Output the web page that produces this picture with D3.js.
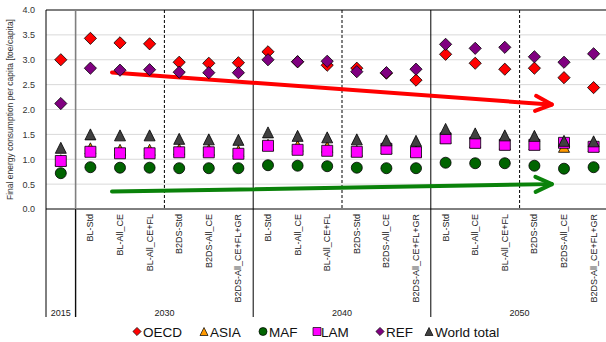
<!DOCTYPE html>
<html><head><meta charset="utf-8">
<script src="https://cdn.jsdelivr.net/npm/d3@7"></script>
<style>body{margin:0;background:#fff}svg{display:block;font-family:"Liberation Sans",Arial,sans-serif}</style>
</head><body><svg id="c" width="606" height="342"></svg>
<script>
const years = ["2015","2030","2040","2050"];
const scenarios = ["BL-Std","BL-All_CE","BL-All_CE+FL","B2DS-Std","B2DS-All_CE","B2DS-All_CE+FL+GR"];
const yTicks = [0,0.5,1,1.5,2,2.5,3,3.5,4];
const seriesNames = ["OECD","ASIA","MAF","LAM","REF","World total"];
const OECD  = [3.00,3.43,3.34,3.32,2.95,2.93,2.94,3.16,2.96,2.89,2.83,2.73,2.59,3.11,2.93,2.81,2.83,2.64,2.44];
const ASIA  = [0.98,1.22,1.19,1.19,1.20,1.19,1.17,1.29,1.27,1.25,1.17,1.22,1.16,1.43,1.34,1.30,1.30,1.25,1.26];
const MAF   = [0.72,0.84,0.83,0.83,0.82,0.82,0.82,0.88,0.87,0.86,0.83,0.82,0.82,0.93,0.92,0.92,0.87,0.81,0.84];
const LAM   = [0.965,1.15,1.12,1.12,1.14,1.14,1.11,1.27,1.19,1.17,1.15,1.21,1.14,1.42,1.33,1.29,1.29,1.33,1.25];
const REF   = [2.12,2.83,2.79,2.80,2.75,2.74,2.74,3.00,2.96,2.97,2.76,2.74,2.81,3.31,3.23,3.25,3.06,2.95,3.12];
const WORLD = [1.23,1.50,1.48,1.48,1.41,1.40,1.39,1.54,1.47,1.44,1.40,1.38,1.37,1.61,1.52,1.48,1.47,1.37,1.36];
// trend arrows: [start position (in category units), start value, end position, end value]
const redArrow   = [2.23, 2.745, 17.09, 2.10];
const greenArrow = [2.23, 0.35, 17.09, 0.50];

const cats = [{year:"2015",sc:""}];
years.slice(1).forEach(y=>scenarios.forEach(s=>cats.push({year:y,sc:s})));
const keys = cats.map(c=>c.year+"|"+c.sc);

const L=46, T=10, B=209, CW=29.6;
const R = L + CW*cats.length;
const x = d3.scaleBand().domain(keys).range([L,R]);
const xPos = d3.scaleLinear().domain([0,cats.length]).range([L,R]);
const y = d3.scaleLinear().domain([0,4]).range([B,T]);
const svg = d3.select("#c");

// gridlines
svg.append("g").selectAll("line").data(yTicks.filter(v=>v>0&&v<4)).join("line")
  .attr("x1",L).attr("x2",R).attr("y1",d=>y(d)).attr("y2",d=>y(d))
  .attr("stroke","#d9d9d9").attr("stroke-width",1);

// y axis
const ya = svg.append("g").attr("transform",`translate(${L},0)`)
  .call(d3.axisLeft(y).tickValues(yTicks).tickFormat(d3.format(".1f")).tickSize(0).tickPadding(11));
ya.select(".domain").remove();
ya.selectAll("text").attr("font-size",9).attr("fill","#333").attr("font-family","Liberation Sans, Arial");

// frame
svg.append("line").attr("x1",L).attr("x2",R).attr("y1",T).attr("y2",T).attr("stroke","#000");
svg.append("line").attr("x1",L).attr("x2",L).attr("y1",T).attr("y2",317).attr("stroke","#000");
svg.append("line").attr("x1",L).attr("x2",R).attr("y1",B).attr("y2",B).attr("stroke","#000");

// group separators
const solidIdx = [1,7,13], dashIdx=[4,10,16];
svg.append("g").selectAll("line").data(solidIdx).join("line")
  .attr("x1",d=>xPos(d)).attr("x2",d=>xPos(d)).attr("y1",T).attr("y2",317)
  .attr("stroke",(d,i)=>i===0?"#7f7f7f":"#000").attr("stroke-width",(d,i)=>i===0?1.6:1);
svg.append("g").selectAll("line").data(solidIdx.slice(0,1)).join("line")
  .attr("x1",d=>xPos(d)).attr("x2",d=>xPos(d)).attr("y1",B).attr("y2",317).attr("stroke","#000");
svg.append("g").selectAll("line").data(dashIdx).join("line")
  .attr("x1",d=>xPos(d)).attr("x2",d=>xPos(d)).attr("y1",T).attr("y2",B)
  .attr("stroke","#000").attr("stroke-dasharray","3,2");

// category labels
svg.append("g").selectAll("text").data(cats).join("text")
  .attr("transform",(d,i)=>`translate(${x(keys[i])+x.bandwidth()/2+3},214) rotate(-90)`)
  .attr("text-anchor","end").attr("font-size",9).attr("fill","#222").text(d=>d.sc);
// year labels
const yearSpan = [[0,1],[1,7],[7,13],[13,19]];
svg.append("g").selectAll("text").data(years).join("text")
  .attr("x",(d,i)=>(xPos(yearSpan[i][0])+Math.min(xPos(yearSpan[i][1]),xPos(yearSpan[i][0])+6*CW))/2)
  .attr("y",316).attr("text-anchor","middle").attr("font-size",9).attr("fill","#222").text(d=>d);

// y label
svg.append("text").attr("transform",`translate(13,${(T+B)/2}) rotate(-90)`)
  .attr("text-anchor","middle").attr("font-size",8.5).attr("fill","#333")
  .text("Final energy consumption per capita [toe/capita]");

// arrows
function arrow(a,color){
  const x1=xPos(a[0]),y1=y(a[1]),x2=xPos(a[2]),y2=y(a[3]);
  const g=svg.append("g").attr("stroke",color).attr("stroke-width",4).attr("fill","none").attr("stroke-linecap","round");
  g.append("line").attr("x1",x1).attr("y1",y1).attr("x2",x2-2).attr("y2",y2);
  const ang=Math.atan2(y2-y1,x2-x1), len=18, spread=0.43;
  [1,-1].forEach(s=>g.append("line").attr("x1",x2).attr("y1",y2)
    .attr("x2",x2-len*Math.cos(ang+s*spread)).attr("y2",y2-len*Math.sin(ang+s*spread)));
}
arrow(redArrow,"#ff0000");
arrow(greenArrow,"#0a820a");

// markers
function shape(kind,s){
  const h=s/2;
  if(kind==="diamond") return `M0,${-h-0.6}L${h+0.6},0L0,${h+0.6}L${-h-0.6},0Z`;
  if(kind==="triangle") return `M0,${-h}L${h},${h}L${-h},${h}Z`;
  if(kind==="square") return `M${-h},${-h}H${h}V${h}H${-h}Z`;
  return d3.arc()({innerRadius:0,outerRadius:h,startAngle:0,endAngle:2*Math.PI});
}
const series = [
  {name:"OECD",vals:OECD,kind:"diamond",color:"#ff0000"},
  {name:"ASIA",vals:ASIA,kind:"triangle",color:"#ff9900"},
  {name:"MAF",vals:MAF,kind:"circle",color:"#006400"},
  {name:"LAM",vals:LAM,kind:"square",color:"#ff00ff"},
  {name:"REF",vals:REF,kind:"diamond",color:"#800080"},
  {name:"World total",vals:WORLD,kind:"triangle",color:"#404040"}
];
series.forEach(s=>{
  svg.append("g").selectAll("path").data(s.vals).join("path")
    .attr("transform",(d,i)=>`translate(${x(keys[i])+x.bandwidth()/2},${y(d)})`)
    .attr("d",shape(s.kind,11)).attr("fill",s.color).attr("stroke","#000").attr("stroke-width",0.8);
});

// legend
const legX=[137,204,263,317,380,429];
const lg=svg.append("g");
series.forEach((s,i)=>{
  lg.append("path").attr("transform",`translate(${legX[i]},331.5)`).attr("d",shape(s.kind,s.kind==="diamond"?7:8))
    .attr("fill",s.color).attr("stroke","#000").attr("stroke-width",0.7);
  lg.append("text").attr("x",legX[i]+(s.kind==="square"?4:6)).attr("y",336.5).attr("font-size",13.5).attr("fill","#111").text(s.name);
});
</script></body></html>
